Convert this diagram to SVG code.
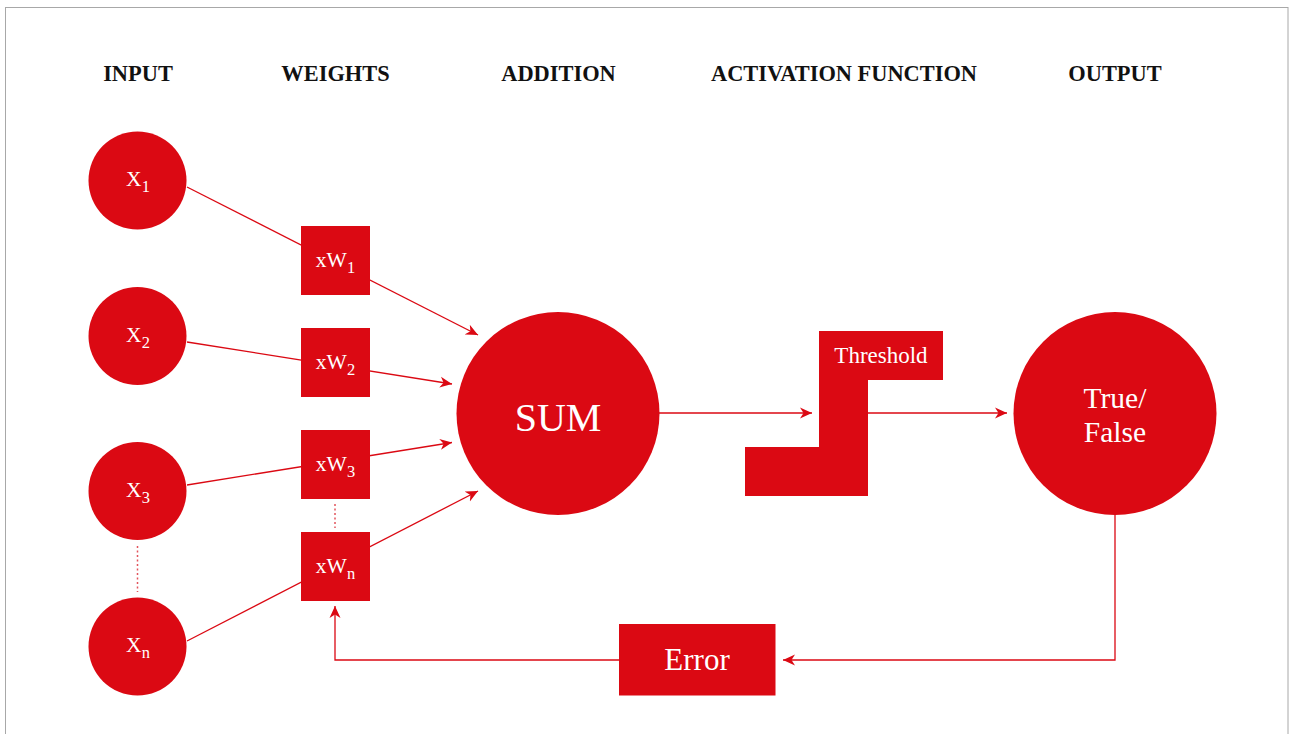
<svg xmlns="http://www.w3.org/2000/svg" width="1292" height="734" viewBox="0 0 1292 734">
<style>
.hdr{font-family:"Liberation Serif","DejaVu Serif",serif;font-weight:bold;font-size:22.4px;fill:#111;text-anchor:middle}
.lbl{font-family:"Liberation Serif","DejaVu Serif",serif;fill:#fff;text-anchor:middle}
.node{fill:#DB0913}
.conn{fill:none;stroke:#DB0913;stroke-width:1.3}
.dot{fill:none;stroke:#E2545C;stroke-width:1.5;stroke-dasharray:2 2.5}
</style>
<defs>
<marker id="arr" markerUnits="userSpaceOnUse" markerWidth="13" markerHeight="13" refX="12" refY="5.5" orient="auto" viewBox="0 0 13 11">
<path d="M0,0 L12,5.5 L0,11 L3.5,5.5 z" fill="#DB0913"/>
</marker>
</defs>
<rect x="0" y="0" width="1292" height="734" fill="#fff"/>
<rect x="5.5" y="7.5" width="1282.5" height="740" fill="none" stroke="#a8a8a8" stroke-width="1"/>

<g id="headers">
<text class="hdr" x="138" y="81">INPUT</text>
<text class="hdr" x="335.5" y="81">WEIGHTS</text>
<text class="hdr" x="558.5" y="81">ADDITION</text>
<text class="hdr" x="844" y="81">ACTIVATION FUNCTION</text>
<text class="hdr" x="1115" y="81">OUTPUT</text>
</g>

<g id="connectors">
<line class="conn" x1="187" y1="187" x2="478" y2="335" marker-end="url(#arr)"/>
<line class="conn" x1="187" y1="342" x2="452" y2="384" marker-end="url(#arr)"/>
<line class="conn" x1="187" y1="485" x2="452" y2="442.5" marker-end="url(#arr)"/>
<line class="conn" x1="187" y1="641" x2="478" y2="491" marker-end="url(#arr)"/>
<line class="conn" x1="659" y1="413" x2="812" y2="413" marker-end="url(#arr)"/>
<line class="conn" x1="868" y1="413" x2="1007" y2="413" marker-end="url(#arr)"/>
<polyline class="conn" points="1115,515 1115,660 783,660" marker-end="url(#arr)"/>
<polyline class="conn" points="619,660 335,660 335,606" marker-end="url(#arr)"/>
<line class="dot" x1="137.5" y1="546" x2="137.5" y2="592"/>
<line class="dot" x1="335" y1="504" x2="335" y2="528"/>
</g>

<g id="x1"><circle class="node" cx="137.5" cy="180.5" r="49"/><text class="lbl" x="138" y="186" font-size="21.5">X<tspan font-size="16.5" dy="6">1</tspan></text></g>
<g id="x2"><circle class="node" cx="137.5" cy="336" r="49"/><text class="lbl" x="138" y="341.5" font-size="21.5">X<tspan font-size="16.5" dy="6">2</tspan></text></g>
<g id="x3"><circle class="node" cx="137.5" cy="491" r="49"/><text class="lbl" x="138" y="496.5" font-size="21.5">X<tspan font-size="16.5" dy="6">3</tspan></text></g>
<g id="xn"><circle class="node" cx="137.5" cy="646.5" r="49"/><text class="lbl" x="138" y="652" font-size="21.5">X<tspan font-size="16.5" dy="6">n</tspan></text></g>

<g id="w1"><rect class="node" x="301" y="226" width="69" height="69"/><text class="lbl" x="335.5" y="267" font-size="21.5">xW<tspan font-size="16.5" dy="5.5">1</tspan></text></g>
<g id="w2"><rect class="node" x="301" y="328" width="69" height="69"/><text class="lbl" x="335.5" y="369" font-size="21.5">xW<tspan font-size="16.5" dy="5.5">2</tspan></text></g>
<g id="w3"><rect class="node" x="301" y="430" width="69" height="69"/><text class="lbl" x="335.5" y="471" font-size="21.5">xW<tspan font-size="16.5" dy="5.5">3</tspan></text></g>
<g id="wn"><rect class="node" x="301" y="532" width="69" height="69"/><text class="lbl" x="335.5" y="573" font-size="21.5">xW<tspan font-size="16.5" dy="5.5">n</tspan></text></g>

<g id="sum"><circle class="node" cx="558" cy="413.5" r="101.5"/><text class="lbl" x="558" y="430.5" font-size="40">SUM</text></g>

<g id="threshold"><polygon class="node" points="819,331 943,331 943,380 868,380 868,496 745,496 745,447 819,447"/><text class="lbl" x="881" y="362.5" font-size="23">Threshold</text></g>

<g id="output"><circle class="node" cx="1115" cy="413.5" r="101.5"/><text class="lbl" x="1115" y="407.5" font-size="29.5">True/</text><text class="lbl" x="1115" y="441.5" font-size="29.5">False</text></g>

<g id="error"><rect class="node" x="619" y="624" width="156.5" height="71.5"/><text class="lbl" x="697" y="669.5" font-size="31">Error</text></g>
</svg>
